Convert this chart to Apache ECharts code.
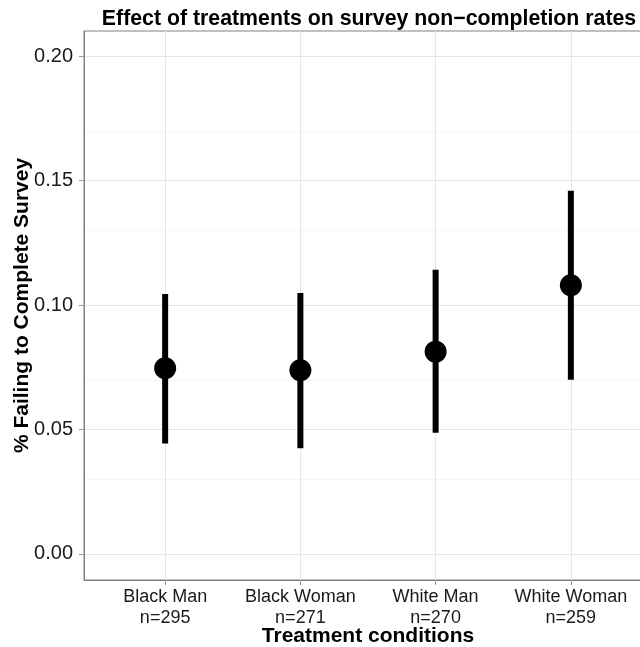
<!DOCTYPE html>
<html>
<head>
<meta charset="utf-8">
<script src="https://cdn.jsdelivr.net/npm/echarts@6/dist/echarts.min.js"></script>
<style>
html,body{margin:0;padding:0;background:#fff;}
#chart{width:640px;height:647px;}
</style>
</head>
<body>
<div id="chart"></div>
<script>
const categories = ['Black Man', 'Black Woman', 'White Man', 'White Woman'];
const sampleSizes = [295, 271, 270, 259];
const estimates = [0.0746, 0.0738, 0.0813, 0.1080];
const lowerCI = [0.0444, 0.0425, 0.0487, 0.0700];
const upperCI = [0.1045, 0.1049, 0.1142, 0.1460];
const yMajorTicks = [0, 0.05, 0.10, 0.15, 0.20];
const yMinorTicks = [0.025, 0.075, 0.125, 0.175];

const xPos = categories.map((c, i) => i + 1);
const FONT = 'Liberation Sans, Arial, sans-serif';

const chart = echarts.init(document.getElementById('chart'), null, {renderer: 'canvas'});

const gridLines = [];
yMinorTicks.forEach(v => gridLines.push({yAxis: v, lineStyle: {color: '#f5f5f5', width: 1, type: 'solid'}}));
yMajorTicks.forEach(v => gridLines.push({yAxis: v, lineStyle: {color: '#e6e6e6', width: 1, type: 'solid'}}));
xPos.forEach(v => gridLines.push({xAxis: v, lineStyle: {color: '#e6e6e6', width: 1, type: 'solid'}}));

chart.setOption({
  animation: false,
  backgroundColor: '#ffffff',
  title: {
    text: 'Effect of treatments on survey non\u2212completion rates',
    left: 364,
    top: 4,
    textAlign: 'center',
    textStyle: {fontFamily: FONT, fontWeight: 'bold', fontSize: 21.3, color: '#000'}
  },
  grid: {
    left: 84, top: 31, width: 568, height: 549,
    outerBoundsMode: 'none',
    show: true, borderColor: '#808080', borderWidth: 1, backgroundColor: 'transparent',
    containLabel: false
  },
  xAxis: {
    type: 'value',
    min: 0.4, max: 4.6,
    name: 'Treatment conditions',
    nameLocation: 'middle',
    nameGap: 46,
    nameMoveOverlap: false,
    nameTextStyle: {fontFamily: FONT, fontWeight: 'bold', fontSize: 21, color: '#000'},
    axisLine: {show: true, onZero: false, lineStyle: {color: '#808080', width: 1}},
    axisTick: {show: true, customValues: xPos, length: 5, lineStyle: {color: '#999999'}},
    axisLabel: {
      customValues: xPos,
      margin: 7,
      fontFamily: FONT, fontSize: 18, color: '#1a1a1a', lineHeight: 21,
      formatter: v => {
        const i = Math.round(v) - 1;
        return categories[i] + '\nn=' + sampleSizes[i];
      }
    },
    splitLine: {show: false}
  },
  yAxis: {
    type: 'value',
    min: -0.0105, max: 0.2102,
    name: '% Failing to Complete Survey',
    nameLocation: 'middle',
    nameRotate: 90,
    nameGap: 51,
    nameMoveOverlap: false,
    nameTextStyle: {fontFamily: FONT, fontWeight: 'bold', fontSize: 21, color: '#000'},
    axisLine: {show: true, lineStyle: {color: '#808080', width: 1}},
    axisTick: {show: true, customValues: yMajorTicks, length: 5, lineStyle: {color: '#999999'}},
    axisLabel: {
      customValues: yMajorTicks,
      margin: 11,
      fontFamily: FONT, fontSize: 20, color: '#1a1a1a',
      formatter: v => v.toFixed(2)
    },
    splitLine: {show: false}
  },
  series: [
    {
      type: 'scatter',
      data: [],
      z: 0,
      silent: true,
      markLine: {
        silent: true,
        z: 0,
        symbol: ['none', 'none'],
        label: {show: false},
        data: gridLines,
        animation: false
      }
    },
    {
      type: 'custom',
      z: 3,
      data: xPos.map((x, i) => [x, lowerCI[i], upperCI[i]]),
      encode: {x: 0, y: [1, 2]},
      renderItem: (params, api) => {
        const p1 = api.coord([api.value(0), api.value(1)]);
        const p2 = api.coord([api.value(0), api.value(2)]);
        return {
          type: 'rect',
          shape: {x: p1[0] - 3, y: p2[1], width: 6, height: p1[1] - p2[1]},
          style: {fill: '#000', stroke: null}
        };
      }
    },
    {
      type: 'scatter',
      z: 4,
      symbol: 'circle',
      symbolSize: 22,
      itemStyle: {color: '#000', opacity: 1},
      data: xPos.map((x, i) => [x, estimates[i]])
    }
  ]
});
</script>
</body>
</html>
